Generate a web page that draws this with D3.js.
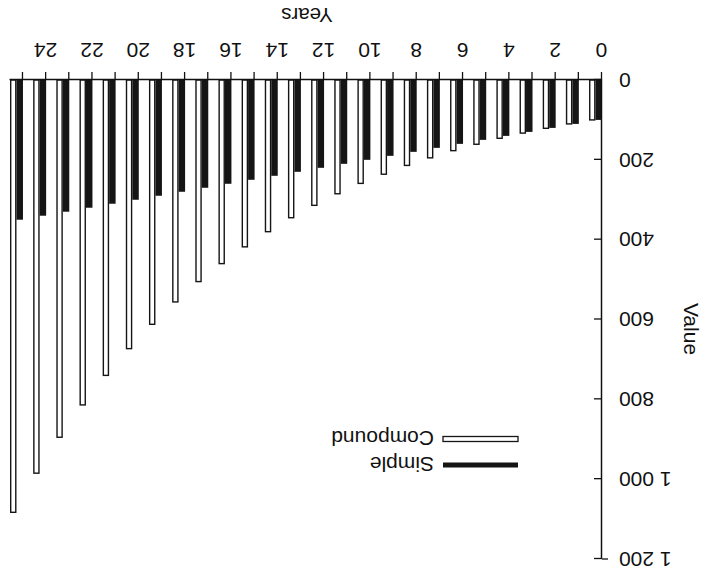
<!DOCTYPE html>
<html>
<head>
<meta charset="utf-8">
<script src="https://cdn.jsdelivr.net/npm/d3@7/dist/d3.min.js"></script>
<style>
  html, body { margin: 0; padding: 0; background: #fff; }
  svg { display: block; }
  text { font-family: "Liberation Sans", Arial, sans-serif; fill: #111; }
</style>
</head>
<body>
<svg id="chart" width="715" height="576"></svg>
<script>
// ---- data ----
const years = [0,1,2,3,4,5,6,7,8,9,10,11,12,13,14,15,16,17,18,19,20,21,22,23,24,25];
const simple = [100,110,120,130,140,150,160,170,180,190,200,210,220,230,240,250,260,270,280,290,300,310,320,330,340,350];
const compound = [100,110,121,133,146,161,177,195,214,236,259,285,314,345,380,418,460,505,556,612,673,740,814,895,985,1083];
const seriesNames = ["Simple", "Compound"];
const xTickLabels = ["0","","2","","4","","6","","8","","10","","12","","14","","16","","18","","20","","22","","24",""];
const yTickValues = [0,200,400,600,800,1000,1200];
const yTickLabels = ["0","200","400","600","800","1 000","1 200"];

const W = 715, H = 576;
const svg = d3.select("#chart");
// The reference is the chart turned upside down: draw normally, then rotate 180°
const g = svg.append("g").attr("transform", `rotate(180, ${W/2}, ${H/2})`);

const x = d3.scaleLinear().domain([0, 25.56]).range([113, 705]);
const y = d3.scaleLinear().domain([0, 1200]).range([496, 17]);
const barW = 0.28;

// bars
const rows = years.map((yr, i) => ({ yr, s: simple[i], c: compound[i] }));
g.selectAll("rect.simple").data(rows).join("rect")
  .attr("class", "simple")
  .attr("x", d => x(d.yr))
  .attr("width", x(barW) - x(0))
  .attr("y", d => y(d.s))
  .attr("height", d => y(0) - y(d.s))
  .attr("fill", "#151515");
g.selectAll("rect.compound").data(rows).join("rect")
  .attr("class", "compound")
  .attr("x", d => x(d.yr + barW) + 0.7)
  .attr("width", x(barW) - x(0) - 1.4)
  .attr("y", d => y(d.c))
  .attr("height", d => y(0) - y(d.c))
  .attr("fill", "#fff")
  .attr("stroke", "#151515")
  .attr("stroke-width", 1.4);

// x axis
const xAxis = d3.axisBottom(x)
  .tickValues(years)
  .tickFormat((d, i) => xTickLabels[i])
  .tickSizeInner(8).tickSizeOuter(0).tickPadding(14);
const gx = g.append("g").attr("transform", `translate(0, ${y(0)})`).call(xAxis);
gx.select(".domain").attr("stroke", "#111").attr("stroke-width", 1.5);
gx.selectAll(".tick line").attr("stroke", "#111").attr("stroke-width", 1.3);
gx.selectAll(".tick text").attr("font-size", 21).attr("font-family", "'Liberation Sans', Arial, sans-serif").attr("fill", "#111");

// y axis
const yAxis = d3.axisLeft(y)
  .tickValues(yTickValues)
  .tickFormat((d, i) => yTickLabels[i])
  .tickSizeInner(-8).tickSizeOuter(0).tickPadding(17);
const gy = g.append("g").attr("transform", `translate(${x(0)}, 0)`).call(yAxis);
gy.select(".domain").attr("stroke", "#111").attr("stroke-width", 1.5);
gy.selectAll(".tick line").attr("stroke", "#111").attr("stroke-width", 1.3);
gy.selectAll(".tick text").attr("font-size", 21).attr("font-family", "'Liberation Sans', Arial, sans-serif").attr("fill", "#111");
// small end tick at the top of the value axis
g.append("line").attr("x1", x(0) - 6).attr("x2", x(0)).attr("y1", y(1200)).attr("y2", y(1200))
  .attr("stroke", "#111").attr("stroke-width", 1.3);

// axis titles
g.append("text").attr("x", 408).attr("y", 568).attr("text-anchor", "middle")
  .attr("font-size", 20.5).text("Years");
g.append("text").attr("transform", `translate(31, 247) rotate(-90)`).attr("text-anchor", "middle")
  .attr("font-size", 21).text("Value");

// legend
const legY = [111, 137];
seriesNames.forEach((name, i) => {
  const ly = legY[i];
  g.append("rect").attr("x", 197).attr("y", ly - 2.5).attr("width", 75).attr("height", 5)
    .attr("fill", i === 0 ? "#151515" : "#fff")
    .attr("stroke", "#151515").attr("stroke-width", i === 0 ? 0 : 1.3);
  g.append("text").attr("x", 281).attr("y", ly).attr("dy", "0.36em")
    .attr("font-family", "'DejaVu Sans', Verdana, sans-serif")
    .attr("font-size", 21).text(name);
});
</script>
</body>
</html>
